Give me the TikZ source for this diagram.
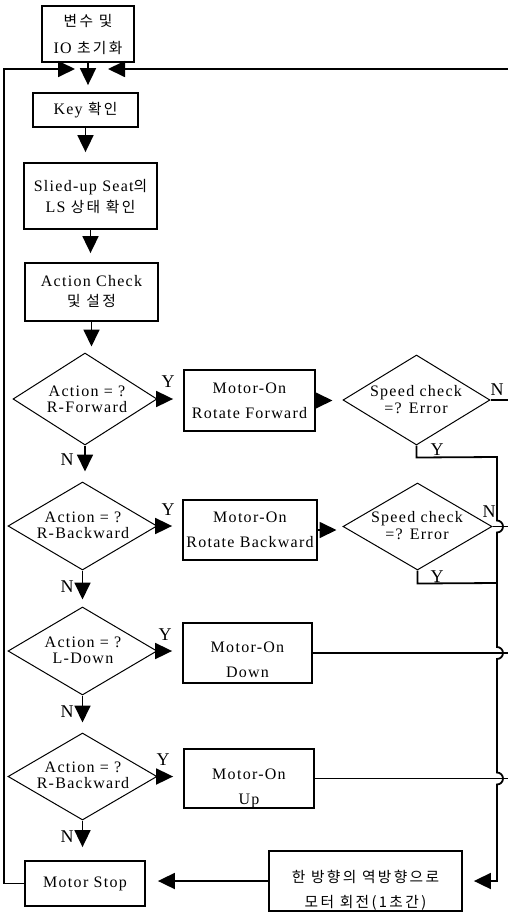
\documentclass[tikz,border=0pt]{standalone}
\usepackage{fontspec}
\setmainfont{Liberation Serif}[LetterSpace=8]
\newfontfamily\krfont{Noto Sans CJK KR}[Scale=0.92,LetterSpace=16]
\newcommand{\kr}[1]{{\krfont #1}}
\usetikzlibrary{arrows.meta,shapes.geometric}
\begin{document}
\begin{tikzpicture}[x=1pt,y=-1pt,
 box/.style={draw, line width=1.8pt, inner sep=0pt, align=center, font=\fontsize{16}{21}\selectfont},
 dia/.style={draw, diamond, line width=1pt, inner sep=0pt},
 txt/.style={inner sep=0pt, align=center, font=\fontsize{16}{16}\selectfont},
 lbl/.style={inner sep=0pt, font=\fontsize{18}{18}\selectfont},
 arr/.style={line width=1.8pt, -{Triangle[length=17pt,width=16pt]}},
 ln/.style={line width=1.8pt}]
\useasboundingbox (0,0) rectangle (508,913);
% boxes
\node[box, minimum width=92pt, minimum height=56pt, font=\fontsize{16}{27}\selectfont] (init) at (88,34) {\kr{변수 및}\\IO \kr{초기화}};
\node[box, minimum width=105pt, minimum height=34pt] (key) at (85.5,110) {Key \kr{확인}};
\node[box, minimum width=133pt, minimum height=66pt] (slied) at (90.5,196) {Slied-up Seat\kr{의}\\LS \kr{상태 확인}};
\node[box, minimum width=133pt, minimum height=58pt, font=\fontsize{16}{20}\selectfont] (act) at (91.5,292) {Action Check\\\kr{및 설정}};
% left diamonds
\node[dia, minimum width=144pt, minimum height=92pt] (d1) at (85,399) {};
\node[txt] (d1t) at (87,399) {Action = ?\\R-Forward};
\node[dia, minimum width=149pt, minimum height=88pt] (d2) at (82.5,526) {};
\node[txt] (d2t) at (83,525) {Action = ?\\R-Backward};
\node[dia, minimum width=149pt, minimum height=88pt] (d3) at (82.5,651) {};
\node[txt] (d3t) at (83,650.5) {Action = ?\\L-Down};
\node[dia, minimum width=149pt, minimum height=87pt] (d4) at (82.5,776.5) {};
\node[txt] (d4t) at (83,775.5) {Action = ?\\R-Backward};
% motor boxes
\node[box, minimum width=131pt, minimum height=61pt, font=\fontsize{16}{25}\selectfont] (m1) at (249.5,400.5) {Motor-On\\Rotate Forward};
\node[box, minimum width=134pt, minimum height=60pt, font=\fontsize{16}{25}\selectfont] (m2) at (250,530) {Motor-On\\Rotate Backward};
\node[box, minimum width=129pt, minimum height=60pt] (m3) at (247.5,653) {};
\node[txt, font=\fontsize{16}{25}\selectfont] (m3t) at (247.5,659.5) {Motor-On\\Down};
\node[box, minimum width=130pt, minimum height=59pt] (m4) at (249,778.5) {};
\node[txt, font=\fontsize{16}{25}\selectfont] (m4t) at (249,788) {Motor-On\\Up};
% speed checks
\node[dia, minimum width=147pt, minimum height=90pt] (s1) at (416.5,400) {};
\node[txt, font=\fontsize{16}{17}\selectfont] (s1t) at (416,400) {Speed check\\=? Error};
\node[dia, minimum width=149pt, minimum height=87pt] (s2) at (417.5,526.5) {};
\node[txt, font=\fontsize{16}{17}\selectfont] (s2t) at (417,525.5) {Speed check\\=? Error};
% bottom
\node[box, minimum width=120pt, minimum height=45pt] (stop) at (85,883.5) {Motor Stop};
\node[box, minimum width=193pt, minimum height=60pt] (rev) at (365.5,881) {};
\node[txt, font=\fontsize{16}{25}\selectfont] (revt) at (365.5,890) {\kr{한 방향의 역방향으로}\\\kr{모터 회전(1초간)}};
% labels
\node[lbl] (y1) at (168,382) {Y};
\node[lbl] (y2) at (168,510) {Y};
\node[lbl] (y3) at (165,635) {Y};
\node[lbl] (y4) at (163,760) {Y};
\node[lbl] (n1) at (67,460) {N};
\node[lbl] (n2) at (67,587) {N};
\node[lbl] (n3) at (67,712) {N};
\node[lbl] (n4) at (67,837) {N};
\node[lbl] (sn1) at (497,390) {N};
\node[lbl] (sy1) at (437,450) {Y};
\node[lbl] (sn2) at (489,512) {N};
\node[lbl] (sy2) at (437,577) {Y};
% coordinates
\coordinate (jl) at (75,69);
\coordinate (jr) at (108,69);
\coordinate (xl) at (4,69);
\coordinate (xr) at (516,69);
% main column
\draw[arr, shorten >=7pt] (init.south) -- (init.south |- key.north);
\draw[arr, shorten >=10pt] (key.south) -- (key.south |- slied.north);
\draw[arr, shorten >=9pt] (slied.south) -- (slied.south |- act.north);
\draw[arr, shorten >=6pt] (act.south) -- (act.south |- d1.north);
\draw[arr, shorten >=10pt] (d1.south) -- (d1.south |- d2.north);
\draw[arr, shorten >=7pt] (d2.south) -- (d2.south |- d3.north);
\draw[arr, shorten >=10pt] (d3.south) -- (d3.south |- d4.north);
\draw[arr, shorten >=13pt] (d4.south) -- (d4.south |- stop.north);
% yes branches
\draw[arr, shorten >=10pt] (d1.east) -- (d1.east -| m1.west);
\draw[arr, shorten >=10pt] (d2.east) -- (d2.east -| m2.west);
\draw[arr, shorten >=10pt] (d3.east) -- (d3.east -| m3.west);
\draw[arr, shorten >=10pt] (d4.east) -- (d4.east -| m4.west);
\draw[arr, shorten >=10pt] (m1.east) -- (m1.east -| s1.west);
\draw[arr, shorten >=6pt] (m2.east) -- (m2.east -| s2.west);
% loops
\draw[arr] (stop.west) -| (xl) -- (jl);
\draw[arr] (s1.east) -| (xr) -- (jr);
\draw[ln] (s2.east) -- (xr |- s2.east);
\draw[ln] (m3.east) -- (xr |- m3.east);
\draw[ln] (m4.east) -- (xr |- m4.east);
\draw[ln] (xr |- m4.east) -- (xr |- s1.east);
% error collector
\draw[arr, shorten >=11pt] (s1.south) -- ++(0,12) -- (497,457) -- (497,520.5)
  arc[start angle=90,end angle=-90,radius=6pt] -- (497,647)
  arc[start angle=90,end angle=-90,radius=6pt] -- (497,772.5)
  arc[start angle=90,end angle=-90,radius=6pt] |- (rev.east);
\draw[ln] (s2.south) -- ++(0,13) -- (497,583);
\draw[arr, shorten >=12pt] (rev.west) -- (rev.west -| stop.east);
\end{tikzpicture}
\end{document}
